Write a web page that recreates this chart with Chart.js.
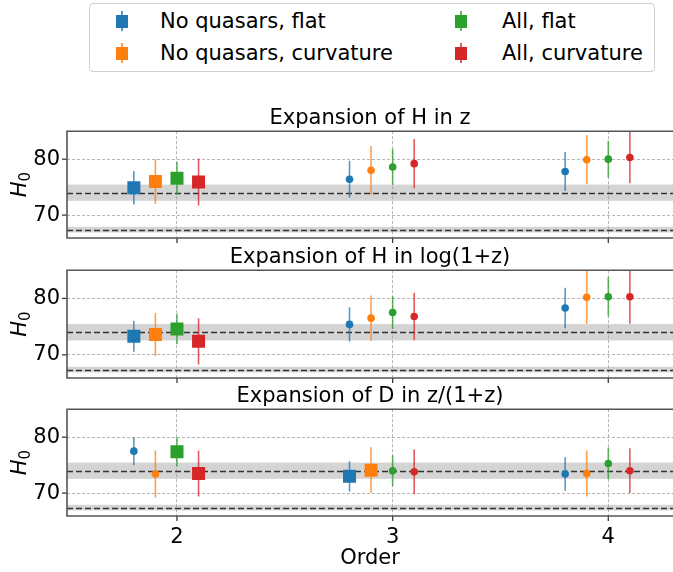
<!DOCTYPE html>
<html lang="en">
<head>
<meta charset="UTF-8">
<script src="https://cdn.jsdelivr.net/npm/chart.js"></script>
<title>H0 por ordem</title>
<style>
  body { margin: 0; width: 673px; height: 572px; background: #fff; position: relative; overflow: hidden;
         font-family: 'DejaVu Sans', sans-serif; }
  canvas { position: absolute; left: 0; }
  #legenda { position: absolute; left: 89px; top: 3px; width: 566px; height: 69px;
             border: 1px solid #d0d0d0; border-radius: 4px; box-sizing: border-box; }
  .texto { position: absolute; font-size: 21px; line-height: 26px; color: #000; white-space: nowrap; }
  .marca { position: absolute; width: 12px; height: 13px; }
  .haste { position: absolute; width: 2px; height: 20px; opacity: 0.75; }
</style>
</head>
<body>
<div id="legenda"></div>

<script>
// ---- dados ----
const series = ['No quasars, flat', 'No quasars, curvature', 'All, flat', 'All, curvature'];
const cores = ['#1f77b4', '#ff7f0e', '#2ca02c', '#d62728'];
const ordens = [2, 3, 4];
const deslocamentos = [-0.2, -0.1, 0, 0.1];
const titulos = ['Expansion of H in z', 'Expansion of H in log(1+z)', 'Expansion of D in z/(1+z)'];

// H(z)
const valoresHz = [[74.9, 76.4, 77.8], [76.0, 78.0, 79.9], [76.6, 78.6, 80.0], [75.9, 79.2, 80.3]];
const errosHz   = [[3.0, 3.3, 3.5], [4.0, 4.35, 4.4], [2.9, 3.2, 3.3], [4.2, 4.4, 4.6]];
const melhorHz  = [[1, 0, 0], [1, 0, 0], [1, 0, 0], [1, 0, 0]];

// H(log(1+z))
const valoresHlog = [[73.3, 75.4, 78.3], [73.6, 76.5, 80.2], [74.6, 77.5, 80.3], [72.4, 76.8, 80.3]];
const errosHlog   = [[2.75, 3.05, 3.6], [3.8, 4.0, 4.7], [2.7, 2.9, 3.5], [4.1, 4.2, 4.8]];
const melhorHlog  = [[1, 0, 0], [1, 0, 0], [1, 0, 0], [1, 0, 0]];

// D(z/(1+z))
const valoresD = [[77.5, 73.0, 73.4], [73.4, 74.1, 73.5], [77.4, 74.0, 75.3], [73.5, 73.8, 74.0]];
const errosD   = [[2.5, 2.7, 3.0], [4.2, 4.1, 4.1], [2.6, 2.75, 2.85], [4.1, 4.0, 4.0]];
const melhorD  = [[0, 1, 0], [0, 1, 0], [1, 0, 0], [1, 0, 0]];

// referencias: local (SH0ES) e Planck
const refH0 = [74.0, 67.4];
const refErro = [1.45, 0.5];

const yTicks = [70, 80];
const xTicks = [2, 3, 4];

// ---- legenda ----
const legenda = document.getElementById('legenda');
series.forEach(function (nome, s) {
  const col = Math.floor(s / 2), lin = s % 2;
  const cx = [121, 460][col] - 89, cy = [20, 52][lin] - 3;
  const haste = document.createElement('div');
  haste.className = 'haste';
  haste.style.background = cores[s];
  haste.style.left = (cx - 1) + 'px';
  haste.style.top = (cy - 10) + 'px';
  legenda.appendChild(haste);
  const marca = document.createElement('div');
  marca.className = 'marca';
  marca.style.background = cores[s];
  marca.style.left = (cx - 6) + 'px';
  marca.style.top = (cy - 6.5) + 'px';
  legenda.appendChild(marca);
  const texto = document.createElement('div');
  texto.className = 'texto';
  texto.textContent = nome;
  texto.style.left = ([159, 501][col] - 89) + 'px';
  texto.style.top = (cy - 13) + 'px';
  legenda.appendChild(texto);
});

// ---- plugin: faixas, linhas de referencia, barras de erro, eixos ----
const moldura = {
  id: 'moldura',
  beforeDraw(chart) {
    const { ctx, chartArea: a, scales: { y } } = chart;
    ctx.save();
    ctx.fillStyle = '#d4d4d4';
    for (let i = 0; i < refH0.length; i++) {
      const t = y.getPixelForValue(refH0[i] + refErro[i]);
      const b = y.getPixelForValue(refH0[i] - refErro[i]);
      ctx.fillRect(a.left, t, a.right - a.left, b - t);
    }
    ctx.restore();
  },
  beforeDatasetsDraw(chart) {
    const { ctx, chartArea: a, scales: { y } } = chart;
    ctx.save();
    ctx.strokeStyle = '#333';
    ctx.lineWidth = 1.5;
    ctx.setLineDash([6, 3]);
    refH0.forEach(function (v) {
      const py = Math.round(y.getPixelForValue(v)) + 0.5;
      ctx.beginPath(); ctx.moveTo(a.left, py); ctx.lineTo(a.right, py); ctx.stroke();
    });
    ctx.setLineDash([]);
    ctx.beginPath(); ctx.rect(a.left, a.top, a.right - a.left, a.bottom - a.top); ctx.clip();
    ctx.lineWidth = 1.6;
    ctx.globalAlpha = 0.75;
    chart.data.datasets.forEach(function (ds, s) {
      const meta = chart.getDatasetMeta(s);
      ctx.strokeStyle = ds.borderColor;
      meta.data.forEach(function (p, k) {
        const v = ds.data[k].y, e = ds.erros[k];
        ctx.beginPath();
        ctx.moveTo(p.x, y.getPixelForValue(v + e));
        ctx.lineTo(p.x, y.getPixelForValue(v - e));
        ctx.stroke();
      });
    });
    ctx.restore();
  },
  afterDraw(chart) {
    const { ctx, chartArea: a, scales: { x, y } } = chart;
    ctx.save();
    ctx.strokeStyle = '#3a3a3a';
    ctx.lineWidth = 1.3;
    yTicks.forEach(function (v) {
      const py = y.getPixelForValue(v);
      ctx.beginPath(); ctx.moveTo(a.left - 5, py); ctx.lineTo(a.left, py); ctx.stroke();
    });
    xTicks.forEach(function (v) {
      const px = x.getPixelForValue(v);
      ctx.beginPath(); ctx.moveTo(px, a.bottom); ctx.lineTo(px, a.bottom + 5); ctx.stroke();
    });
    ctx.strokeStyle = '#555';
    ctx.lineWidth = 1.6;
    ctx.beginPath();
    ctx.moveTo(a.right, a.top); ctx.lineTo(a.left, a.top);
    ctx.lineTo(a.left, a.bottom); ctx.lineTo(a.right, a.bottom);
    ctx.stroke();
    // rotulo H_0
    ctx.translate(19, (a.top + a.bottom) / 2);
    ctx.rotate(-Math.PI / 2);
    ctx.fillStyle = '#000';
    ctx.textBaseline = 'alphabetic';
    ctx.font = 'italic 21px "DejaVu Sans"';
    const wH = ctx.measureText('H').width;
    ctx.font = '15px "DejaVu Sans"';
    const w0 = ctx.measureText('0').width;
    const x0 = -(wH + w0) / 2;
    ctx.font = 'italic 21px "DejaVu Sans"';
    ctx.fillText('H', x0, 7);
    ctx.font = '15px "DejaVu Sans"';
    ctx.fillText('0', x0 + wH, 11);
    ctx.restore();
  }
};

function semMargem(s) {
  s.paddingTop = 0; s.paddingBottom = 0; s.paddingLeft = 0; s.paddingRight = 0;
}

function criarPainel(i, valores, erros, melhor) {
  const ultimo = i === 2;
  const topo = [105, 244, 383][i];
  const altura = ultimo ? 189 : [140, 141][i];
  const canvas = document.createElement('canvas');
  canvas.width = 673;
  canvas.height = altura;
  canvas.style.top = topo + 'px';
  document.body.appendChild(canvas);

  const dados = {
    datasets: series.map(function (nome, s) {
      return {
        label: nome,
        data: ordens.map(function (o, k) { return { x: o + deslocamentos[s], y: valores[s][k] }; }),
        erros: erros[s],
        backgroundColor: cores[s],
        borderColor: cores[s],
        pointStyle: melhor[s].map(function (m) { return m ? 'rect' : 'circle'; }),
        pointRadius: melhor[s].map(function (m) { return m ? 9.2 : 3.8; }),
        pointBorderWidth: 0,
        showLine: false
      };
    })
  };

  const grade = { color: 'rgba(150,150,150,0.7)', lineWidth: 1, drawTicks: false };

  new Chart(canvas.getContext('2d'), {
    type: 'scatter',
    data: dados,
    plugins: [moldura],
    options: {
      responsive: false,
      animation: false,
      layout: { padding: 0, autoPadding: false },
      plugins: {
        legend: { display: false },
        tooltip: { enabled: false },
        title: {
          display: true,
          fullSize: false,
          text: titulos[i],
          color: '#000',
          font: { family: 'DejaVu Sans', size: 21, weight: 'normal' },
          padding: { top: 1, bottom: 0 }
        }
      },
      scales: {
        x: {
          type: 'linear',
          min: 1.49,
          max: 4.30,
          afterFit: function (s) { s.height = ultimo ? 56 : 7; semMargem(s); },
          ticks: {
            display: ultimo,
            stepSize: 1,
            includeBounds: false,
            padding: 9,
            color: '#000',
            font: { family: 'DejaVu Sans', size: 21 }
          },
          grid: grade,
          border: { display: false, dash: [3, 2] },
          title: {
            display: ultimo,
            text: 'Order',
            color: '#000',
            font: { family: 'DejaVu Sans', size: 21 },
            padding: { top: 0, bottom: 1 }
          }
        },
        y: {
          min: 65.9,
          max: 85.0,
          afterFit: function (s) { s.width = 67; semMargem(s); },
          ticks: {
            stepSize: 10,
            includeBounds: false,
            padding: 7,
            color: '#000',
            font: { family: 'DejaVu Sans', size: 21 }
          },
          grid: grade,
          border: { display: false, dash: [3, 2] }
        }
      }
    }
  });
}

criarPainel(0, valoresHz, errosHz, melhorHz);
criarPainel(1, valoresHlog, errosHlog, melhorHlog);
criarPainel(2, valoresD, errosD, melhorD);
</script>
</body>
</html>
